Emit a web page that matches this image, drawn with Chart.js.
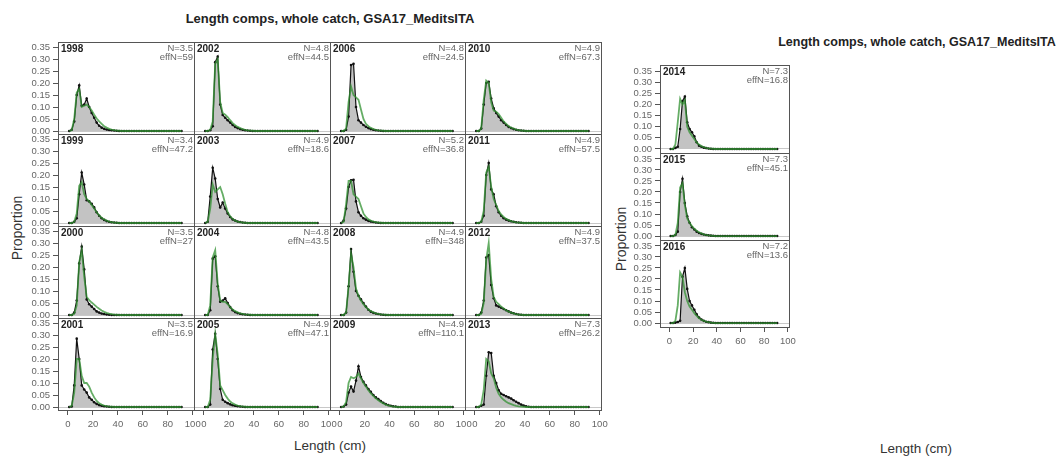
<!DOCTYPE html>
<html>
<head>
<meta charset="utf-8">
<script src="https://cdn.jsdelivr.net/npm/chart.js@4.4.1/dist/chart.umd.min.js"></script>
<style>
body{margin:0;background:#fff;width:1063px;height:458px;overflow:hidden;position:relative;font-family:"Liberation Sans",Arial,sans-serif}
canvas{position:absolute}
.lbl{position:absolute;white-space:nowrap;color:#222;transform:translate(-50%,-50%)}
</style>
</head>
<body>
<div class="lbl" style="left:330px;top:18px;font-weight:bold;font-size:13px">Length comps, whole catch, GSA17_MeditsITA</div>
<div class="lbl" style="left:917px;top:42px;font-weight:bold;font-size:12.5px">Length comps, whole catch, GSA17_MeditsITA</div>
<div class="lbl" style="left:17px;top:228px;font-size:14px;color:#333;transform:translate(-50%,-50%) rotate(-90deg)">Proportion</div>
<div class="lbl" style="left:621px;top:239px;font-size:14px;color:#333;transform:translate(-50%,-50%) rotate(-90deg)">Proportion</div>
<div class="lbl" style="left:330px;top:445px;font-size:13.5px;color:#333">Length (cm)</div>
<div class="lbl" style="left:916px;top:448px;font-size:13.5px;color:#333">Length (cm)</div>
<script>
// length bins (cm)
var lengths = [1,3,5,7,9,11,13,15,17,19,21,23,25,27,29,31,33,35,37,39,41,43,45,
               47,49,51,53,55,57,59,61,63,65,67,69,71,73,75,77,79,81,83,85,87,89,91];
var xTicks = [0,20,40,60,80,100];
var yTicks = [0,0.05,0.1,0.15,0.2,0.25,0.3,0.35];

var years = [1998,1999,2000,2001,2002,2003,2004,2005,2006,2007,2008,2009,2010,2011,2012,2013,2014,2015,2016];
var nInput = ['3.5','3.4','3.5','3.5','4.8','4.9','4.8','4.9','4.8','5.2','4.9','4.9','4.9','4.9','4.9','7.3','7.3','7.3','7.2'];
var effN = ['59','47.2','27','16.9','44.5','18.6','43.5','47.1','24.5','36.8','348','110.1','67.3','57.5','37.5','26.2','16.8','45.1','13.6'];

// observed (grey) and expected (green) proportions, one value per bin
var obs1998 = [0,0.005,0.04,0.15,0.19,0.105,0.11,0.135,0.1,0.075,0.055,0.035,0.022,0.014,0.009,0.006,0.004,0.003,0.002,0.001,0,0,0, 0,0,0,0,0,0,0,0,0,0,0,0,0,0,0,0,0,0,0,0,0,0,0];
var exp1998 = [0,0.003,0.05,0.16,0.175,0.1,0.105,0.11,0.1,0.085,0.068,0.052,0.04,0.03,0.02,0.014,0.009,0.006,0.004,0.002,0.001,0,0, 0,0,0,0,0,0,0,0,0,0,0,0,0,0,0,0,0,0,0,0,0,0,0];
var obs1999 = [0,0,0.005,0.02,0.12,0.21,0.16,0.095,0.09,0.08,0.065,0.045,0.03,0.02,0.013,0.008,0.005,0.003,0.002,0.001,0,0,0, 0,0,0,0,0,0,0,0,0,0,0,0,0,0,0,0,0,0,0,0,0,0,0];
var exp1999 = [0,0,0.005,0.04,0.155,0.17,0.12,0.1,0.09,0.075,0.06,0.045,0.032,0.022,0.015,0.01,0.006,0.004,0.002,0.001,0,0,0, 0,0,0,0,0,0,0,0,0,0,0,0,0,0,0,0,0,0,0,0,0,0,0];
var obs2000 = [0,0,0.01,0.06,0.215,0.285,0.19,0.065,0.045,0.035,0.025,0.015,0.01,0.006,0.004,0.002,0.001,0,0,0,0,0,0, 0,0,0,0,0,0,0,0,0,0,0,0,0,0,0,0,0,0,0,0,0,0,0];
var exp2000 = [0,0,0.005,0.04,0.22,0.27,0.16,0.075,0.062,0.052,0.043,0.034,0.026,0.019,0.013,0.009,0.006,0.004,0.002,0.001,0,0,0, 0,0,0,0,0,0,0,0,0,0,0,0,0,0,0,0,0,0,0,0,0,0,0];
var obs2001 = [0,0.002,0.09,0.285,0.2,0.09,0.073,0.06,0.04,0.03,0.02,0.013,0.008,0.005,0.003,0.002,0.001,0,0,0,0,0,0, 0,0,0,0,0,0,0,0,0,0,0,0,0,0,0,0,0,0,0,0,0,0,0];
var exp2001 = [0,0.005,0.06,0.2,0.2,0.13,0.1,0.1,0.085,0.06,0.04,0.025,0.016,0.01,0.006,0.004,0.002,0.001,0,0,0,0,0, 0,0,0,0,0,0,0,0,0,0,0,0,0,0,0,0,0,0,0,0,0,0,0];
var obs2002 = [0,0,0.003,0.02,0.287,0.31,0.11,0.067,0.055,0.045,0.035,0.025,0.017,0.012,0.008,0.005,0.003,0.002,0.001,0,0,0,0, 0,0,0,0,0,0,0,0,0,0,0,0,0,0,0,0,0,0,0,0,0,0,0];
var exp2002 = [0,0,0.005,0.04,0.28,0.3,0.12,0.075,0.068,0.058,0.045,0.033,0.024,0.017,0.012,0.008,0.005,0.003,0.002,0.001,0,0,0, 0,0,0,0,0,0,0,0,0,0,0,0,0,0,0,0,0,0,0,0,0,0,0];
var obs2003 = [0,0.005,0.11,0.23,0.185,0.1,0.065,0.085,0.06,0.04,0.025,0.015,0.01,0.006,0.004,0.002,0.001,0,0,0,0,0,0, 0,0,0,0,0,0,0,0,0,0,0,0,0,0,0,0,0,0,0,0,0,0,0];
var exp2003 = [0,0.005,0.06,0.16,0.13,0.14,0.15,0.12,0.08,0.045,0.028,0.017,0.01,0.006,0.004,0.002,0.001,0,0,0,0,0,0, 0,0,0,0,0,0,0,0,0,0,0,0,0,0,0,0,0,0,0,0,0,0,0];
var obs2004 = [0,0,0.02,0.235,0.245,0.12,0.055,0.06,0.07,0.05,0.033,0.02,0.012,0.008,0.005,0.003,0.002,0.001,0,0,0,0,0, 0,0,0,0,0,0,0,0,0,0,0,0,0,0,0,0,0,0,0,0,0,0,0];
var exp2004 = [0,0,0.04,0.24,0.27,0.13,0.06,0.055,0.055,0.045,0.033,0.023,0.016,0.011,0.007,0.005,0.003,0.002,0.001,0,0,0,0, 0,0,0,0,0,0,0,0,0,0,0,0,0,0,0,0,0,0,0,0,0,0,0];
var obs2005 = [0,0,0.01,0.24,0.305,0.2,0.075,0.03,0.022,0.016,0.011,0.007,0.005,0.003,0.002,0.001,0,0,0,0,0,0,0, 0,0,0,0,0,0,0,0,0,0,0,0,0,0,0,0,0,0,0,0,0,0,0];
var exp2005 = [0,0,0.03,0.2,0.305,0.22,0.09,0.07,0.05,0.035,0.023,0.015,0.01,0.006,0.004,0.002,0.001,0,0,0,0,0,0, 0,0,0,0,0,0,0,0,0,0,0,0,0,0,0,0,0,0,0,0,0,0,0];
var obs2006 = [0,0,0.005,0.06,0.275,0.28,0.1,0.045,0.035,0.025,0.018,0.012,0.008,0.005,0.003,0.002,0.001,0,0,0,0,0,0, 0,0,0,0,0,0,0,0,0,0,0,0,0,0,0,0,0,0,0,0,0,0,0];
var exp2006 = [0,0,0.01,0.12,0.185,0.15,0.14,0.13,0.09,0.05,0.03,0.02,0.013,0.008,0.005,0.003,0.002,0.001,0,0,0,0,0, 0,0,0,0,0,0,0,0,0,0,0,0,0,0,0,0,0,0,0,0,0,0,0];
var obs2007 = [0,0.01,0.06,0.15,0.178,0.18,0.09,0.045,0.03,0.02,0.014,0.009,0.006,0.004,0.002,0.001,0,0,0,0,0,0,0, 0,0,0,0,0,0,0,0,0,0,0,0,0,0,0,0,0,0,0,0,0,0,0];
var exp2007 = [0,0.005,0.08,0.175,0.175,0.12,0.11,0.1,0.07,0.04,0.025,0.015,0.01,0.006,0.004,0.002,0.001,0,0,0,0,0,0, 0,0,0,0,0,0,0,0,0,0,0,0,0,0,0,0,0,0,0,0,0,0,0];
var obs2008 = [0,0,0.01,0.12,0.275,0.18,0.1,0.08,0.065,0.05,0.035,0.022,0.014,0.009,0.006,0.004,0.002,0.001,0,0,0,0,0, 0,0,0,0,0,0,0,0,0,0,0,0,0,0,0,0,0,0,0,0,0,0,0];
var exp2008 = [0,0,0.01,0.12,0.255,0.2,0.11,0.08,0.06,0.045,0.033,0.023,0.016,0.011,0.007,0.005,0.003,0.002,0.001,0,0,0,0, 0,0,0,0,0,0,0,0,0,0,0,0,0,0,0,0,0,0,0,0,0,0,0];
var obs2009 = [0,0.002,0.01,0.06,0.085,0.065,0.11,0.17,0.125,0.105,0.09,0.075,0.063,0.05,0.04,0.033,0.025,0.018,0.012,0.008,0.005,0.003,0.002, 0,0,0,0,0,0,0,0,0,0,0,0,0,0,0,0,0,0,0,0,0,0,0];
var exp2009 = [0,0.002,0.02,0.1,0.125,0.12,0.125,0.14,0.12,0.1,0.085,0.07,0.057,0.046,0.036,0.028,0.021,0.015,0.01,0.007,0.004,0.002,0.001, 0,0,0,0,0,0,0,0,0,0,0,0,0,0,0,0,0,0,0,0,0,0,0];
var obs2010 = [0,0,0.01,0.11,0.2,0.205,0.135,0.095,0.075,0.06,0.045,0.035,0.025,0.017,0.012,0.008,0.005,0.003,0.002,0.001,0,0,0, 0,0,0,0,0,0,0,0,0,0,0,0,0,0,0,0,0,0,0,0,0,0,0];
var exp2010 = [0,0,0.01,0.13,0.21,0.2,0.12,0.085,0.08,0.07,0.055,0.04,0.03,0.02,0.014,0.01,0.006,0.004,0.002,0.001,0,0,0, 0,0,0,0,0,0,0,0,0,0,0,0,0,0,0,0,0,0,0,0,0,0,0];
var obs2011 = [0,0,0.005,0.03,0.2,0.25,0.14,0.12,0.07,0.045,0.03,0.02,0.014,0.01,0.007,0.005,0.003,0.002,0.001,0,0,0,0, 0,0,0,0,0,0,0,0,0,0,0,0,0,0,0,0,0,0,0,0,0,0,0];
var exp2011 = [0,0,0.005,0.05,0.21,0.235,0.15,0.1,0.075,0.05,0.035,0.025,0.017,0.012,0.008,0.005,0.003,0.002,0.001,0,0,0,0, 0,0,0,0,0,0,0,0,0,0,0,0,0,0,0,0,0,0,0,0,0,0,0];
var obs2012 = [0,0,0.01,0.06,0.24,0.25,0.125,0.07,0.04,0.035,0.03,0.025,0.02,0.015,0.01,0.007,0.004,0.002,0.001,0,0,0,0, 0,0,0,0,0,0,0,0,0,0,0,0,0,0,0,0,0,0,0,0,0,0,0];
var exp2012 = [0,0,0.005,0.05,0.23,0.3,0.15,0.075,0.055,0.045,0.035,0.027,0.02,0.014,0.01,0.007,0.004,0.002,0.001,0,0,0,0, 0,0,0,0,0,0,0,0,0,0,0,0,0,0,0,0,0,0,0,0,0,0,0];
var obs2013 = [0,0,0.005,0.01,0.13,0.228,0.225,0.13,0.1,0.07,0.055,0.05,0.045,0.04,0.035,0.028,0.022,0.016,0.01,0.006,0.003,0.001,0, 0,0,0,0,0,0,0,0,0,0,0,0,0,0,0,0,0,0,0,0,0,0,0];
var exp2013 = [0,0,0.01,0.07,0.2,0.19,0.14,0.12,0.08,0.055,0.04,0.03,0.022,0.016,0.012,0.008,0.005,0.003,0.002,0.001,0,0,0, 0,0,0,0,0,0,0,0,0,0,0,0,0,0,0,0,0,0,0,0,0,0,0];
var obs2014 = [0,0,0.005,0.01,0.09,0.215,0.235,0.12,0.09,0.075,0.057,0.03,0.015,0.01,0.006,0.004,0.002,0.001,0,0,0,0,0, 0,0,0,0,0,0,0,0,0,0,0,0,0,0,0,0,0,0,0,0,0,0,0];
var exp2014 = [0,0,0.02,0.12,0.225,0.2,0.22,0.1,0.075,0.06,0.045,0.03,0.02,0.013,0.008,0.005,0.003,0.002,0.001,0,0,0,0, 0,0,0,0,0,0,0,0,0,0,0,0,0,0,0,0,0,0,0,0,0,0,0];
var obs2015 = [0,0,0.005,0.02,0.2,0.26,0.15,0.09,0.06,0.04,0.03,0.02,0.014,0.01,0.007,0.005,0.003,0.002,0.001,0,0,0,0, 0,0,0,0,0,0,0,0,0,0,0,0,0,0,0,0,0,0,0,0,0,0,0];
var exp2015 = [0,0,0.005,0.06,0.22,0.24,0.14,0.08,0.06,0.045,0.033,0.024,0.017,0.012,0.008,0.005,0.003,0.002,0.001,0,0,0,0, 0,0,0,0,0,0,0,0,0,0,0,0,0,0,0,0,0,0,0,0,0,0,0];
var obs2016 = [0,0,0.002,0.005,0.01,0.21,0.25,0.155,0.1,0.08,0.06,0.04,0.025,0.016,0.01,0.006,0.004,0.002,0.001,0,0,0,0, 0,0,0,0,0,0,0,0,0,0,0,0,0,0,0,0,0,0,0,0,0,0,0];
var exp2016 = [0,0,0.01,0.08,0.23,0.21,0.14,0.1,0.075,0.06,0.045,0.033,0.022,0.015,0.01,0.006,0.004,0.002,0.001,0,0,0,0, 0,0,0,0,0,0,0,0,0,0,0,0,0,0,0,0,0,0,0,0,0,0,0];

var obsList = [obs1998,obs1999,obs2000,obs2001,obs2002,obs2003,obs2004,obs2005,obs2006,obs2007,
               obs2008,obs2009,obs2010,obs2011,obs2012,obs2013,obs2014,obs2015,obs2016];
var expList = [exp1998,exp1999,exp2000,exp2001,exp2002,exp2003,exp2004,exp2005,exp2006,exp2007,
               exp2008,exp2009,exp2010,exp2011,exp2012,exp2013,exp2014,exp2015,exp2016];

var fontFam = '"Liberation Sans", Arial, sans-serif';

// panel frame + year / N / effN labels
var panelDeco = {
    id: 'panelDeco',
    afterDraw: function(chart) {
        var a = chart.chartArea, ctx = chart.ctx, o = chart.options.plugins.panelDeco;
        ctx.save();
        ctx.strokeStyle = '#555';
        ctx.lineWidth = 1;
        ctx.strokeRect(Math.round(a.left) + 0.5, Math.round(a.top) + 0.5,
                       Math.round(a.right - a.left), Math.round(a.bottom - a.top));
        ctx.textBaseline = 'middle';
        ctx.fillStyle = '#222';
        ctx.font = 'bold 10px ' + fontFam;
        ctx.textAlign = 'left';
        ctx.fillText(o.year, a.left + 3, a.top + 7);
        ctx.fillStyle = '#666';
        ctx.font = '9.5px ' + fontFam;
        ctx.textAlign = 'right';
        ctx.fillText('N=' + o.n, a.right - 1, a.top + 6);
        ctx.fillText('effN=' + o.eff, a.right - 1, a.top + 15);
        ctx.restore();
    }
};

function toPoints(arr) {
    return lengths.map(function(L, i) { return {x: L, y: arr[i]}; });
}

function makePanel(k, box, showX, showY, yMin, yMax) {
    var padL = 50, padT = 10, padR = 12, padB = 40;
    var cv = document.createElement('canvas');
    var w = box.w + padL + padR, h = box.h + padT + padB;
    cv.width = w; cv.height = h;
    cv.style.left = (box.x - padL) + 'px';
    cv.style.top = (box.y - padT) + 'px';
    cv.style.width = w + 'px'; cv.style.height = h + 'px';
    document.body.appendChild(cv);

    new Chart(cv, {
        type: 'line',
        data: {
            datasets: [{
                data: toPoints(expList[k]),
                borderColor: 'rgba(50,145,50,0.75)',
                borderWidth: 1.8,
                pointRadius: 0,
                fill: false,
                tension: 0
            }, {
                data: toPoints(obsList[k]),
                borderColor: '#111',
                borderWidth: 1.2,
                backgroundColor: '#c3c3c3',
                fill: 'origin',
                pointRadius: 1.3,
                pointBackgroundColor: '#111',
                pointBorderWidth: 0,
                tension: 0
            }]
        },
        options: {
            responsive: false,
            animation: false,
            events: [],
            layout: {padding: {left: showY ? 0 : padL, top: padT, right: padR, bottom: showX ? 0 : padB}},
            plugins: {
                legend: {display: false},
                tooltip: {enabled: false},
                panelDeco: {year: years[k], n: nInput[k], eff: effN[k]}
            },
            scales: {
                x: {
                    type: 'linear', min: -8, max: 101,
                    afterBuildTicks: function(s) { s.ticks = xTicks.map(function(v) { return {value: v}; }); },
                    afterFit: function(s) { s.height = showX ? padB : 0; s.paddingLeft = 0; s.paddingRight = 0; },
                    border: {display: false},
                    grid: {drawOnChartArea: false, drawTicks: showX, tickLength: 5, tickColor: '#555'},
                    ticks: {display: showX, autoSkip: false, maxRotation: 0, padding: 4, color: '#666',
                            font: {size: 9.5, family: fontFam}}
                },
                y: {
                    min: yMin, max: yMax,
                    afterBuildTicks: function(s) { s.ticks = yTicks.map(function(v) { return {value: v}; }); },
                    afterFit: function(s) { s.width = showY ? padL : 0; s.paddingTop = 0; s.paddingBottom = 0; },
                    border: {display: false},
                    grid: {
                        drawTicks: showY, tickLength: 5, tickColor: '#555',
                        color: function(c) { return c.tick && c.tick.value === 0 ? '#c8c8c8' : 'rgba(0,0,0,0)'; }
                    },
                    ticks: {display: showY, autoSkip: false, padding: 3, color: '#666',
                            font: {size: 9.5, family: fontFam},
                            callback: function(v) { return v.toFixed(2); }}
                }
            }
        },
        plugins: [panelDeco]
    });
}

// left 4x4 grid, filled column by column
var colEdges = [58, 194, 330, 465, 601];
var rowEdges = [42, 134, 226, 318, 410];
for (var k = 0; k < 16; k++) {
    var c = Math.floor(k / 4), r = k % 4;
    makePanel(k, {x: colEdges[c], y: rowEdges[r], w: colEdges[c + 1] - colEdges[c], h: rowEdges[r + 1] - rowEdges[r]},
              r === 3, c === 0, -0.0125, 0.371);
}
// right single column
var rEdges = [65, 153, 240, 327];
for (var j = 0; j < 3; j++) {
    makePanel(16 + j, {x: 660, y: rEdges[j], w: 129, h: rEdges[j + 1] - rEdges[j]},
              j === 2, true, -0.018, 0.377);
}
</script>
</body>
</html>
